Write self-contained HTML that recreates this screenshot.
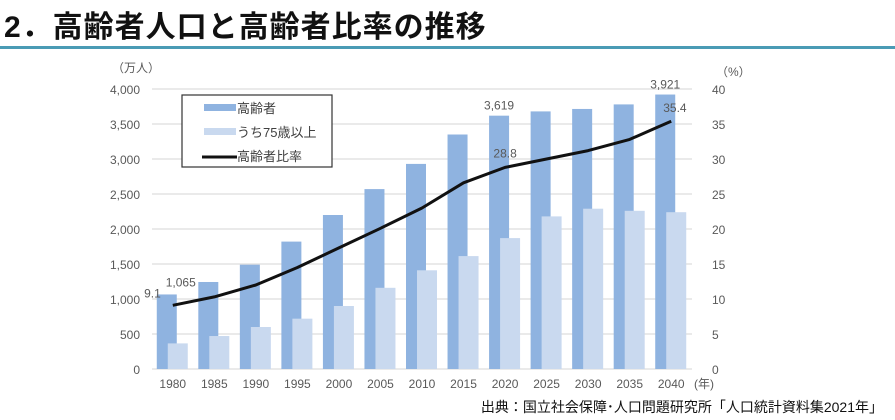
<!DOCTYPE html>
<html><head><meta charset="utf-8"><style>
body{margin:0;width:895px;height:420px;background:#fff;overflow:hidden;font-family:"Liberation Sans","Noto Sans CJK JP",sans-serif}
#title{position:absolute;left:4px;top:2px;font-size:30px;font-weight:bold;color:#111;letter-spacing:1px}
#rule{position:absolute;left:0;top:46px;width:895px;height:3px;background:#4a9bb5}
#src{position:absolute;right:12px;top:397px;font-size:14px;color:#111}
svg{position:absolute;left:0;top:0}
</style></head><body>
<div id="title">2．高齢者人口と高齢者比率の推移</div>
<div id="rule"></div>
<svg id="c" width="895" height="420"></svg>
<div id="src">出典：国立社会保障･人口問題研究所「人口統計資料集2021年」</div>
<script>
const years=["1980","1985","1990","1995","2000","2005","2010","2015","2020","2025","2030","2035","2040"];
const elderly=[1065,1243,1490,1820,2200,2570,2930,3350,3619,3680,3715,3780,3921];
const over75=[366,471,600,719,900,1160,1410,1613,1870,2180,2290,2260,2240];
const ratio=[9.1,10.3,12.0,14.5,17.3,20.1,23.0,26.6,28.8,30.0,31.2,32.8,35.4];
const leftTicks=[0,500,1000,1500,2000,2500,3000,3500,4000];
const rightTicks=[0,5,10,15,20,25,30,35,40];
const svg=document.getElementById('c');const NS='http://www.w3.org/2000/svg';
const X0=152,X1=692,Y0=369,Y1=89;
const bw=(X1-X0)/years.length;
const yL=v=>Y0-(v/4000)*(Y0-Y1);
const yR=v=>Y0-(v/40)*(Y0-Y1);
const xc=i=>X0+bw*(i+0.5);
function mk(t,a,txt){const e=document.createElementNS(NS,t);for(const k in a)e.setAttribute(k,a[k]);if(txt!=null)e.textContent=txt;svg.appendChild(e);return e;}
leftTicks.forEach((v,i)=>{
 const g=mk('line',{x1:X0,x2:X1,y1:yL(v),y2:yL(v),stroke:'#d4d4d4','stroke-width':1});
 
 
 const t=mk('text',{x:X0-12,y:yL(v)+5,'text-anchor':'end','font-size':12,fill:'#595959'},v.toLocaleString('en-US'));
 
 
});
rightTicks.forEach(v=>{
 const t=mk('text',{x:X1+20,y:yR(v)+5,'text-anchor':'start','font-size':12,fill:'#595959'},String(v));
 
 
});
let t=mk('text',{x:112,y:72,'font-size':12,fill:'#595959'},'（万人）');


t=mk('text',{x:716,y:76,'font-size':12,fill:'#595959'},'（%）');


years.forEach((y,i)=>{
 const c=xc(i);
 const b=mk('rect',{x:c-16,y:yL(elderly[i]),width:20,height:Y0-yL(elderly[i]),fill:'#8fb3e0'});
 
 
 const b2=mk('rect',{x:c-5,y:yL(over75[i]),width:20,height:Y0-yL(over75[i]),fill:'#c9d9ef'});
 
 
 const tl=mk('text',{x:c,y:388,'text-anchor':'middle','font-size':12,fill:'#595959'},y);
 
 
});
t=mk('text',{x:X1+2,y:388,'font-size':12,fill:'#595959'},'(年)');


let d=ratio.map((v,i)=>(i?'L':'M')+xc(i).toFixed(1)+','+yR(v).toFixed(1)).join(' ');
const ln=mk('path',{d:d,fill:'none',stroke:'#111','stroke-width':3,'stroke-linejoin':'round'});


const n=years.length-1;
[[0,elderly[0].toLocaleString('en-US'),xc(0)+8,yL(elderly[0])-8],[8,elderly[8].toLocaleString('en-US'),xc(8)-6,yL(elderly[8])-6],[n,elderly[n].toLocaleString('en-US'),xc(n)-6,yL(elderly[n])-6]].forEach(a=>{
 const e=mk('text',{x:a[2],y:a[3],'text-anchor':'middle','font-size':12,fill:'#595959'},a[1]);
 
 
});
[[0,'end',-12,-8],[8,'middle',0,-10],[n,'start',-8,-9]].forEach(a=>{
 const e=mk('text',{x:xc(a[0])+a[2],y:yR(ratio[a[0]])+a[3],'text-anchor':a[1],'font-size':12,fill:'#595959'},ratio[a[0]].toFixed(1));
 
 
});
const lb=mk('rect',{x:182,y:95,width:150,height:72,fill:'#fff',stroke:'#333','stroke-width':1.2});


[['#8fb3e0','高齢者',0],['#c9d9ef','うち75歳以上',1]].forEach(a=>{
 const r=mk('rect',{x:204,y:104+a[2]*24,width:32,height:7,fill:a[0]});
 
 
 const e=mk('text',{x:237,y:113+a[2]*24,'font-size':13,fill:'#404040'},a[1]);
 
 
});
const ll=mk('line',{x1:202,x2:237,y1:157,y2:157,stroke:'#111','stroke-width':3});


t=mk('text',{x:237,y:161,'font-size':13,fill:'#404040'},'高齢者比率');


</script>
</body></html>
